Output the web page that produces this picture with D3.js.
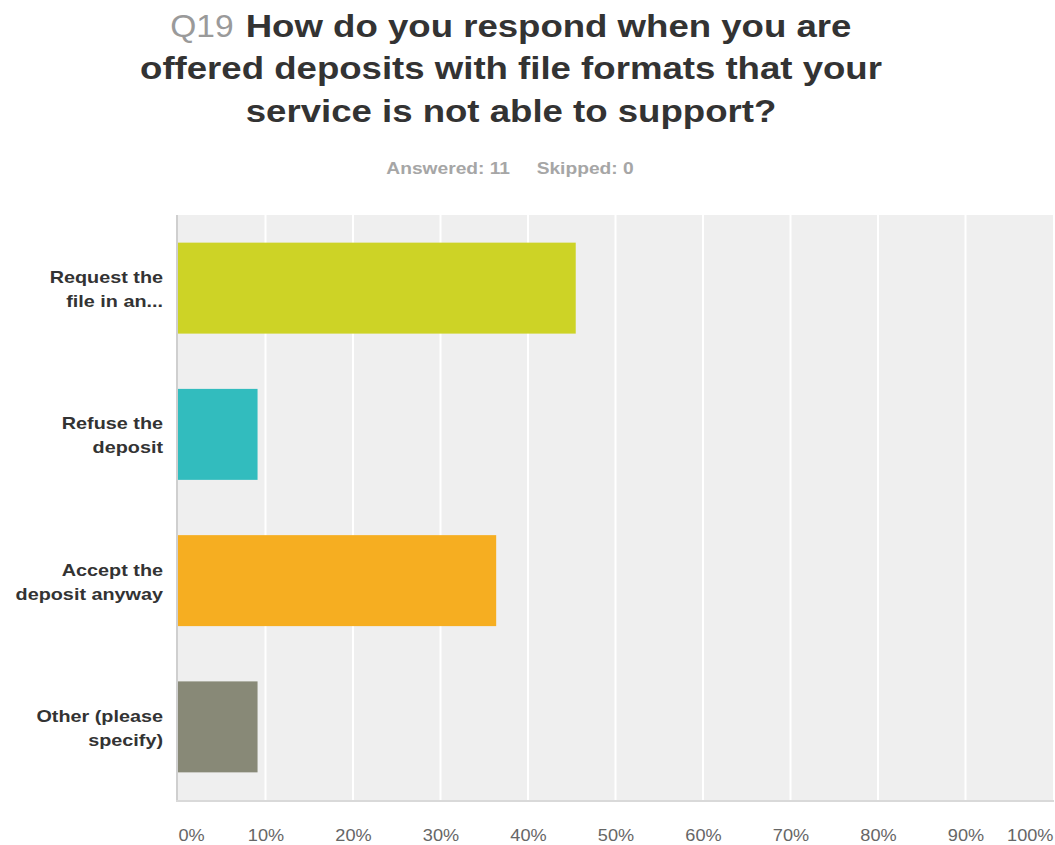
<!DOCTYPE html>
<html>
<head>
<meta charset="utf-8">
<script src="https://cdn.jsdelivr.net/npm/d3@7"></script>
<style>
  html, body { margin: 0; padding: 0; background: #fff; }
  svg { display: block; font-family: "Liberation Sans", Arial, sans-serif; }
</style>
</head>
<body>
<svg id="chart" width="1055" height="845"></svg>
<script>
// Survey question Q19 — share of respondents per answer choice
const categories = [
  ["Request the", "file in an..."],
  ["Refuse the", "deposit"],
  ["Accept the", "deposit anyway"],
  ["Other (please", "specify)"]
];
const responses = [5, 1, 4, 1];          // respondents per choice
const answered = 11;
const skipped = 0;
const shares = responses.map(r => r / answered);
const barColors = ["#cdd326", "#32bcbe", "#f6ae21", "#888977"];
const tickValues = [0, 0.1, 0.2, 0.3, 0.4, 0.5, 0.6, 0.7, 0.8, 0.9, 1];
const questionNo = "Q19";
const titleLines = [
  "How do you respond when you are",
  "offered deposits with file formats that your",
  "service is not able to support?"
];

const svg = d3.select("#chart");
const plot = { left: 178, right: 1053, top: 215, bottom: 800 };
const BOLD_STRETCH = 1.2;   // wide bold face
const REG_STRETCH = 1.1;

// stretch a text horizontally around its anchor x
function stretch(sel, ax, k, extra = "") {
  sel.attr("transform", `translate(${ax * (1 - k)},0) scale(${k},1) ${extra}`);
}

// Title
const titleCx = 511;
titleLines.forEach((line, i) => {
  const yb = 37 + i * 42.5;
  const bold = svg.append("text")
    .attr("y", yb)
    .attr("font-size", 30.5)
    .attr("font-weight", "bold")
    .attr("fill", "#333")
    .text(line);
  const wb = bold.node().getComputedTextLength() * BOLD_STRETCH;
  if (i === 0) {
    const q = svg.append("text")
      .attr("y", yb)
      .attr("font-size", 30.5)
      .attr("fill", "#9a9a9a")
      .text(questionNo);
    const wq = q.node().getComputedTextLength() * REG_STRETCH;
    const gap = 12;
    const x0 = titleCx - (wq + gap + wb) / 2;
    q.attr("x", x0);
    stretch(q, x0, REG_STRETCH);
    const xb = x0 + wq + gap;
    bold.attr("x", xb);
    stretch(bold, xb, BOLD_STRETCH);
  } else {
    bold.attr("x", titleCx).attr("text-anchor", "middle");
    stretch(bold, titleCx, BOLD_STRETCH);
  }
});

// Response counts
const sub = svg.append("text")
  .attr("x", 510).attr("y", 174)
  .attr("text-anchor", "middle")
  .attr("font-size", 16).attr("font-weight", "bold")
  .attr("fill", "#a6a6a6")
  .style("white-space", "pre")
  .text(`Answered: ${answered}     Skipped: ${skipped}`);
stretch(sub, 510, BOLD_STRETCH);

const x = d3.scaleLinear().domain([0, 1]).range([plot.left, plot.right]);
const y = d3.scaleBand().domain(d3.range(categories.length))
  .range([plot.top, plot.bottom]).paddingInner(0.378).paddingOuter(0.189);

// Plot background
svg.append("rect")
  .attr("x", plot.left).attr("y", plot.top)
  .attr("width", plot.right - plot.left).attr("height", plot.bottom - plot.top)
  .attr("fill", "#efefef");

// Vertical gridlines
svg.append("g").selectAll("line")
  .data(tickValues.slice(1, -1))
  .join("line")
  .attr("x1", d => x(d)).attr("x2", d => x(d))
  .attr("y1", plot.top).attr("y2", plot.bottom)
  .attr("stroke", "#fff").attr("stroke-width", 2);

// Bars
svg.append("g").selectAll("rect")
  .data(shares)
  .join("rect")
  .attr("x", x(0))
  .attr("y", (d, i) => y(i))
  .attr("width", d => x(d) - x(0))
  .attr("height", y.bandwidth())
  .attr("fill", (d, i) => barColors[i]);

// Axis lines
svg.append("line")
  .attr("x1", plot.left - 1).attr("x2", plot.left - 1)
  .attr("y1", plot.top).attr("y2", plot.bottom + 2)
  .attr("stroke", "#cfcfcf").attr("stroke-width", 2);
svg.append("line")
  .attr("x1", plot.left - 2).attr("x2", plot.right + 1)
  .attr("y1", plot.bottom + 1).attr("y2", plot.bottom + 1)
  .attr("stroke", "#d9d9d9").attr("stroke-width", 2);

// X tick labels
const xAxis = d3.axisBottom(x).tickValues(tickValues).tickFormat(d3.format(".0%")).tickSize(0);
const gx = svg.append("g").attr("transform", `translate(0,${plot.bottom})`).call(xAxis);
gx.select(".domain").remove();
gx.selectAll("text")
  .attr("y", 41).attr("dy", 0)
  .attr("font-size", 16.5)
  .attr("font-family", "Liberation Sans, Arial, sans-serif")
  .attr("fill", "#666")
  .attr("text-anchor", (d, i) => i === 0 ? "start" : i === tickValues.length - 1 ? "end" : "middle")
  .attr("transform", `scale(${REG_STRETCH},1)`);

// Category labels
const labelX = 163;
const labels = svg.append("g").selectAll("text")
  .data(categories)
  .join("text")
  .attr("x", labelX)
  .attr("text-anchor", "end")
  .attr("font-size", 16.5)
  .attr("font-weight", "bold")
  .attr("fill", "#333");
labels.each(function(lines, i) {
  const cy = y(i) + y.bandwidth() / 2;
  const t = d3.select(this);
  stretch(t, labelX, BOLD_STRETCH);
  t.selectAll("tspan")
    .data(lines)
    .join("tspan")
    .attr("x", labelX)
    .attr("y", (d, j) => cy - 5 + j * 24)
    .text(d => d);
});
</script>
</body>
</html>
